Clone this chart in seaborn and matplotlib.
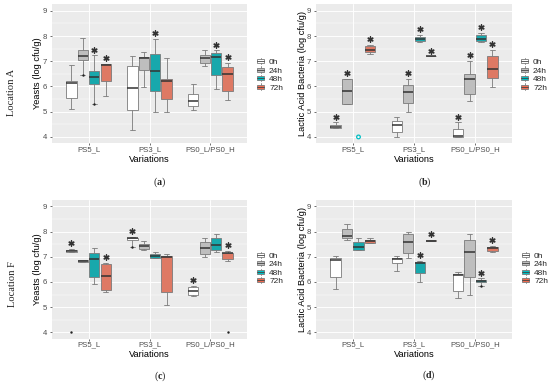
import numpy as np
import pandas as pd
import matplotlib
matplotlib.use("Agg")
import matplotlib.pyplot as plt
import seaborn as sns
from matplotlib.ticker import MultipleLocator, FixedLocator
from matplotlib.legend_handler import HandlerBase
from matplotlib.patches import Rectangle, Patch
from matplotlib.lines import Line2D

# ---------------- data ----------------
variations = ["PS5_L", "PS3_L", "PS0_L/PS0_H"]
hours = ["0h", "24h", "48h", "72h"]
y_ticks = [4, 5, 6, 7, 8, 9]

# five-number summaries [min, Q1, median, Q3, max], one per variation
yeast_A_0h = [[5.11, 5.53, 6.14, 6.23, 6.85], [4.29, 5.08, 5.94, 6.82, 7.19], [5.07, 5.24, 5.44, 5.69, 6.08]]
yeast_A_24h = [[6.44, 7.06, 7.19, 7.43, 7.92], [5.98, 6.65, 7.13, 7.15, 7.36], [6.80, 6.93, 7.13, 7.26, 7.43]]
yeast_A_48h = [[5.31, 6.10, 6.37, 6.60, 7.23], [4.99, 5.83, 6.61, 7.28, 7.88], [5.90, 6.47, 7.17, 7.32, 7.43]]
yeast_A_72h = [[5.61, 6.23, 6.84, 6.89, 6.90], [4.99, 5.50, 6.20, 6.30, 7.13], [5.48, 5.81, 6.51, 6.77, 6.93]]

lab_A_0h = [[4.36, 4.36, 4.40, 4.46, 4.58], [4.00, 4.20, 4.46, 4.62, 4.79], [4.00, 4.00, 4.03, 4.33, 4.58]]
lab_A_24h = [[5.29, 5.29, 5.81, 6.30, 6.30], [4.99, 5.35, 5.77, 6.07, 6.31], [5.44, 5.70, 6.31, 6.51, 7.03]]
lab_A_48h = [None, [7.75, 7.81, 7.89, 7.98, 8.05], [7.75, 7.80, 7.89, 8.04, 8.12]]
lab_A_72h = [[7.30, 7.36, 7.46, 7.59, 7.65], [7.19, 7.19, 7.19, 7.19, 7.19], [5.98, 6.34, 6.69, 7.22, 7.46]]

yeast_F_0h = [[7.17, 7.17, 7.22, 7.26, 7.30], [7.39, 7.65, 7.75, 7.76, 7.79], [5.44, 5.48, 5.65, 5.81, 5.85]]
yeast_F_24h = [[6.80, 6.80, 6.84, 6.89, 6.89], [7.26, 7.32, 7.43, 7.52, 7.61], [7.00, 7.09, 7.33, 7.59, 7.75]]
yeast_F_48h = [[5.94, 6.20, 6.93, 7.16, 7.33], [6.97, 6.97, 7.03, 7.09, 7.17], [7.17, 7.26, 7.46, 7.75, 7.92]]
yeast_F_72h = [[5.61, 5.70, 6.23, 6.70, 6.77], [5.08, 5.61, 7.00, 7.03, 7.09], [6.84, 6.93, 7.16, 7.16, 7.22]]

lab_F_0h = [[5.71, 6.18, 6.89, 6.96, 7.04], [6.45, 6.74, 6.93, 6.96, 7.04], [5.36, 5.66, 6.28, 6.32, 6.38]]
lab_F_24h = [[7.68, 7.76, 7.83, 8.12, 8.28], [6.96, 7.13, 7.59, 7.89, 8.00], [5.49, 6.18, 7.20, 7.68, 7.89]]
lab_F_48h = [[7.26, 7.26, 7.37, 7.59, 7.75], [5.99, 6.37, 6.76, 6.80, 6.83], [5.85, 5.99, 6.04, 6.08, 6.14]]
lab_F_72h = [[7.55, 7.55, 7.62, 7.66, 7.75], [7.61, 7.61, 7.63, 7.65, 7.66], [7.20, 7.24, 7.33, 7.39, 7.42]]

# outlier points (variation, hour, value)
outliers_A_yeast = [("PS5_L", "24h", 6.44), ("PS5_L", "48h", 5.31)]
outliers_A_lab = []
outliers_F_yeast = [("PS5_L", "0h", 4.00), ("PS3_L", "0h", 7.39), ("PS0_L/PS0_H", "72h", 4.00)]
outliers_F_lab = [("PS0_L/PS0_H", "48h", 5.85)]
# single observation drawn as an open point
single_A_lab = [("PS5_L", "48h", 4.00)]

# significance marks (variation, hour)
stars_A_yeast = [("PS5_L", "48h"), ("PS5_L", "72h"), ("PS3_L", "48h"), ("PS0_L/PS0_H", "48h"), ("PS0_L/PS0_H", "72h")]
stars_A_lab = [("PS5_L", "0h"), ("PS5_L", "24h"), ("PS5_L", "72h"), ("PS3_L", "24h"), ("PS3_L", "48h"),
               ("PS3_L", "72h"), ("PS0_L/PS0_H", "0h"), ("PS0_L/PS0_H", "24h"), ("PS0_L/PS0_H", "48h"),
               ("PS0_L/PS0_H", "72h")]
stars_F_yeast = [("PS5_L", "0h"), ("PS5_L", "72h"), ("PS3_L", "0h"), ("PS0_L/PS0_H", "0h"), ("PS0_L/PS0_H", "72h")]
stars_F_lab = [("PS3_L", "48h"), ("PS3_L", "72h"), ("PS0_L/PS0_H", "48h"), ("PS0_L/PS0_H", "72h")]

palette = {"0h": "#FFFFFF", "24h": "#BEBEBE", "48h": "#00BFC4", "72h": "#F26B50"}

# ---------------- style ----------------
W, H = 550, 384
sns.set_style("darkgrid", rc={"axes.facecolor": "#EBEBEB", "grid.color": "white"})
plt.rcParams["font.family"] = ["Liberation Sans", "DejaVu Sans"]
plt.rcParams["mathtext.fontset"] = "custom"
plt.rcParams["mathtext.rm"] = "Liberation Serif"
plt.rcParams["mathtext.bf"] = "Liberation Serif:bold"

EDGE = "#7A7A7A"
BOX_W = 0.75


def long_df(series_by_hour):
    rows = []
    for h, series in zip(hours, series_by_hour):
        for v, five in zip(variations, series):
            if five is None:
                continue
            for val in five:
                rows.append((v, h, val))
    return pd.DataFrame(rows, columns=["Variation", "Hour", "value"])


def xpos(v, h):
    return variations.index(v) + (hours.index(h) - 1.5) * BOX_W / len(hours)


def px_rect(l, t, r, b):
    return [l / W, 1 - b / H, (r - l) / W, (b - t) / H]


class BoxKey(HandlerBase):
    def create_artists(self, legend, orig, xd, yd, w, h, fs, trans):
        fc = orig.get_facecolor()
        x0, y0 = -xd, -yd
        bh = h * 0.62
        by = y0 + (h - bh) / 2
        r = Rectangle((x0, by), w, bh, facecolor=fc, edgecolor=EDGE, lw=0.6, transform=trans)
        med = Line2D([x0, x0 + w], [y0 + h / 2] * 2, color="#444444", lw=0.6, transform=trans)
        wt = Line2D([x0 + w / 2] * 2, [by + bh, y0 + h], color=EDGE, lw=0.6, transform=trans)
        wb = Line2D([x0 + w / 2] * 2, [y0, by], color=EDGE, lw=0.6, transform=trans)
        return [r, med, wt, wb]


fig = plt.figure(figsize=(W / 100, H / 100), dpi=100)

panels = [
    dict(rect=(52, 4, 247, 143), series=[yeast_A_0h, yeast_A_24h, yeast_A_48h, yeast_A_72h],
         ylabel="Yeasts (log cfu/g)", out=outliers_A_yeast, single=[], stars=stars_A_yeast,
         leg=(257, 58), tag="a", tagxy=(159.5, 182), ylx=38),
    dict(rect=(316, 4, 512, 143), series=[lab_A_0h, lab_A_24h, lab_A_48h, lab_A_72h],
         ylabel="Lactic Acid Bacteria (log cfu/g)", out=outliers_A_lab, single=single_A_lab,
         stars=stars_A_lab, leg=(521, 58), tag="b", tagxy=(424.5, 182), ylx=303),
    dict(rect=(52, 199.5, 247, 338.5), series=[yeast_F_0h, yeast_F_24h, yeast_F_48h, yeast_F_72h],
         ylabel="Yeasts (log cfu/g)", out=outliers_F_yeast, single=[], stars=stars_F_yeast,
         leg=(257, 251.5), tag="c", tagxy=(160, 376), ylx=38),
    dict(rect=(316, 199.5, 512, 338.5), series=[lab_F_0h, lab_F_24h, lab_F_48h, lab_F_72h],
         ylabel="Lactic Acid Bacteria (log cfu/g)", out=outliers_F_lab, single=[], stars=stars_F_lab,
         leg=(522, 251.5), tag="d", tagxy=(429, 375), ylx=303),
]

for p in panels:
    l, t, r, b = p["rect"]
    ax = fig.add_axes(px_rect(l, t, r, b))
    df = long_df(p["series"])
    sns.boxplot(data=df, x="Variation", y="value", hue="Hour", order=variations, hue_order=hours,
                palette=palette, width=BOX_W, gap=0.1, whis=(0, 100), showfliers=False,
                linecolor=EDGE, linewidth=0.6,
                medianprops=dict(color="#333333", linewidth=1.1),
                legend=False, ax=ax)

    # outliers
    for v, h, val in p["out"]:
        ax.scatter([xpos(v, h)], [val], s=3, color="#222222", zorder=5, linewidths=0)
    for v, h, val in p["single"]:
        ax.scatter([xpos(v, h)], [val], s=7, facecolors="none", edgecolors=palette[h], linewidths=0.9, zorder=5)

    # significance stars above the group maximum
    for v, h in p["stars"]:
        idx = hours.index(h)
        five = p["series"][idx][variations.index(v)]
        ax.scatter([xpos(v, h)], [max(five) + 0.23], marker=(6, 2, 0), s=14, color="#333333",
                   linewidths=1.0, zorder=6)

    ax.set_xlim(-0.6, 2.6)
    ax.set_ylim(3.76, 9.27)
    ax.yaxis.set_major_locator(FixedLocator(y_ticks))
    ax.yaxis.set_minor_locator(MultipleLocator(0.5))
    ax.grid(which="major", color="white", linewidth=0.65)
    ax.grid(which="minor", axis="y", color="white", linewidth=0.35)
    ax.set_axisbelow(True)
    for s in ax.spines.values():
        s.set_visible(False)
    ax.tick_params(axis="both", which="major", left=True, bottom=True, length=1.5, width=0.5,
                   color="#333333", labelsize=5.6, labelcolor="#4D4D4D")
    ax.tick_params(axis="x", pad=0.6)
    ax.tick_params(axis="y", pad=2.0)
    ax.tick_params(which="minor", length=0)
    ax.set_xlabel("Variations", fontsize=6.7, color="black")
    ax.set_ylabel(p["ylabel"], fontsize=6.7, color="black")
    ax.xaxis.set_label_coords(0.5, -0.086)
    ax.yaxis.set_label_coords((p["ylx"] + 4.4 - l) / (r - l), 0.5)

    handles = [Patch(facecolor=palette[h], edgecolor=EDGE, label=h) for h in hours]
    lx, ly = p["leg"]
    fig.legend(handles=handles, labels=hours, handler_map={Patch: BoxKey()},
               loc="upper left", bbox_to_anchor=(lx / W, 1 - ly / H), frameon=False,
               fontsize=6, handlelength=0.85, handleheight=0.8, handletextpad=0.6,
               labelspacing=0.05, borderpad=0, borderaxespad=0)

    tx, ty = p["tagxy"]
    fig.text(tx / W, 1 - ty / H, "(${\\bf %s}$)" % p["tag"], ha="center", va="center",
             fontsize=7.2, family="Liberation Serif")

fig.text(12 / W, 1 - 92 / H, "Location A", rotation=90, ha="center", va="center",
         fontsize=7.6, family="Liberation Serif")
fig.text(12.5 / W, 1 - 284.5 / H, "Location F", rotation=90, ha="center", va="center",
         fontsize=7.6, family="Liberation Serif")

fig.savefig("out.png", dpi=100)
